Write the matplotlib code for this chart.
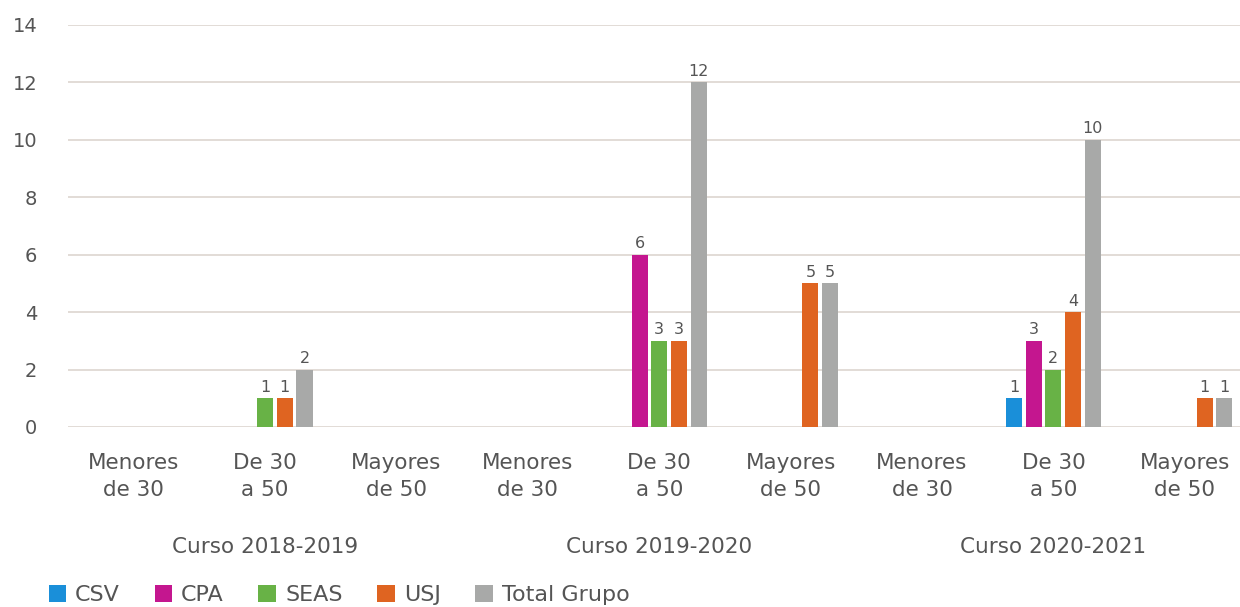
import matplotlib
matplotlib.use("Agg")
import matplotlib.pyplot as plt
import matplotlib.transforms as mtransforms
import numpy as np

plt.rcParams['font.family'] = ['DejaVu Sans']

categories = ["Menores\nde 30", "De 30\na 50", "Mayores\nde 50"] * 3
courses = ["Curso 2018-2019", "Curso 2019-2020", "Curso 2020-2021"]
series_names = ["CSV", "CPA", "SEAS", "USJ", "Total Grupo"]
csv = [0, 0, 0, 0, 0, 0, 0, 1, 0]
cpa = [0, 0, 0, 0, 6, 0, 0, 3, 0]
seas = [0, 1, 0, 0, 3, 0, 0, 2, 0]
usj = [0, 1, 0, 0, 3, 5, 0, 4, 1]
total = [0, 2, 0, 0, 12, 5, 0, 10, 1]
colors = ["#1a8fd9", "#c4168f", "#68b246", "#df6421", "#a8a9a8"]
yticks = [0, 2, 4, 6, 8, 10, 12, 14]

series = [csv, cpa, seas, usj, total]
text_color = "#555555"

fig = plt.figure(figsize=(12.4, 6.07), dpi=100)
ax = fig.add_axes([68 / 1240, 180 / 607, 1 - 68 / 1240, 402 / 607])

x = np.arange(len(categories))
step = 0.15
width = 0.122
for i, (vals, col, name) in enumerate(zip(series, colors, series_names)):
    pos = x + (i - 2) * step
    ax.bar(pos, vals, width, color=col, label=name, zorder=3)
    for p, v in zip(pos, vals):
        if v:
            ax.text(p, v + 0.12, str(v), ha="center", va="bottom",
                    fontsize=11.5, color=text_color, zorder=4)

ax.set_xlim(-0.5, 8.42)
ax.set_ylim(0, 14)
ax.set_yticks(yticks)
ax.set_yticklabels([str(t) for t in yticks], fontsize=14, color=text_color)
ax.yaxis.grid(True, color="#ddd5d0", linewidth=1.2, zorder=0)
ax.set_axisbelow(True)
ax.tick_params(axis="y", length=0, pad=22)
ax.set_xticks(x)
ax.set_xticklabels(categories, fontsize=15.5, color=text_color, linespacing=1.4)
ax.tick_params(axis="x", length=0, pad=19)
for s in ax.spines.values():
    s.set_visible(False)

trans = mtransforms.blended_transform_factory(ax.transData, ax.transAxes)
for k, c in enumerate(courses):
    ax.text(3 * k + 1, -0.2985, c, transform=trans, ha="center", va="center",
            fontsize=15.5, color=text_color)

fig.legend(loc="lower left", bbox_to_anchor=(0.023, -0.03), ncol=5,
           frameon=False, fontsize=16, handlelength=0.8, handleheight=0.8,
           handletextpad=0.4, columnspacing=1.55, labelcolor=text_color)

fig.savefig("out.png", dpi=100)
